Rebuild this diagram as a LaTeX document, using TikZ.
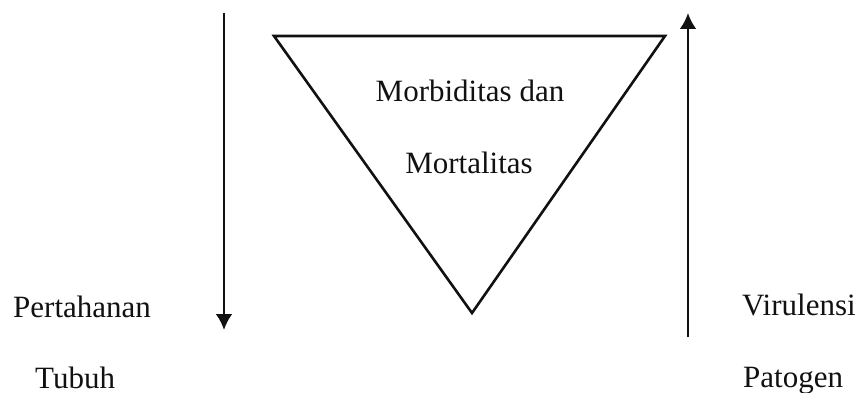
\documentclass[tikz,border=0pt]{standalone}
\usepackage{fontspec}
\setmainfont{Liberation Serif}
\usepackage{xcolor}
\usetikzlibrary{arrows.meta,positioning}
\definecolor{inkblack}{HTML}{111111}
\tikzset{
  flowarrow/.style={inkblack, -{Latex[length=16pt,width=17pt]}, line width=2.8pt},
  trianglepath/.style={inkblack, line width=2.6pt, line join=miter},
  labeltext/.style={inkblack, inner sep=0pt, font=\fontsize{31}{36}\selectfont},
  sidelabel/.style={labeltext, anchor=base west},
  centerlabel/.style={labeltext, anchor=base}
}
\begin{document}
\begin{tikzpicture}[x=1pt,y=-1pt]
  \useasboundingbox (0,0) rectangle (861,393);
  % triangle
  \coordinate (triL) at (274,36);
  \coordinate (triR) at (665,36);
  \coordinate (triB) at (472,313);
  \draw[trianglepath] (triL) -- (triR) -- (triB) -- cycle;
  \node[centerlabel] (morb) at (470,102) {Morbiditas dan};
  \node[centerlabel] (mort) at (469,173) {Mortalitas};
  % arrows
  \coordinate (defTop) at (224,13);
  \coordinate (defEnd) at (224,330);
  \draw[flowarrow] (defTop) -- (defEnd);
  \coordinate (virBot) at (688,337);
  \coordinate (virTop) at (688,13);
  \draw[flowarrow] (virBot) -- (virTop);
  % side labels
  \node[sidelabel] (pert) at (13,317) {Pertahanan};
  \node[sidelabel] (tubuh) at (35,388) {Tubuh};
  \node[sidelabel] (viru) at (742,315) {Virulensi};
  \node[sidelabel] (pato) at (743,387) {Patogen};
\end{tikzpicture}
\end{document}
